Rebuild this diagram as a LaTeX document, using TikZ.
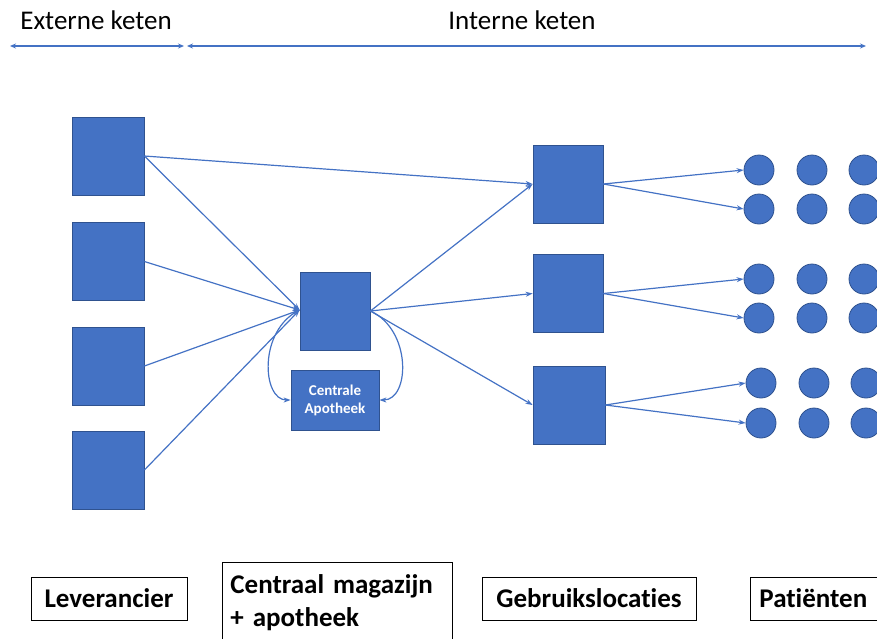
\documentclass[tikz,border=0pt]{standalone}
\usepackage{fontspec}
\setmainfont{Carlito}[Ligatures=NoCommon]
\usetikzlibrary{arrows.meta}
\definecolor{boxblue}{HTML}{4472C4}
\definecolor{boxedge}{HTML}{2F528F}
\begin{document}
\begin{tikzpicture}[x=1pt,y=-1pt,
  blk/.style={draw=boxedge,fill=boxblue,line width=0.8pt,minimum width=#1,inner sep=0pt},
  dot/.style={circle,draw=boxedge,fill=boxblue,line width=0.8pt,minimum size=30pt,inner sep=0pt},
  flow/.style={draw=boxblue,line width=1.2pt,-{Stealth[length=7pt,width=5pt]}},
  span/.style={draw=boxblue,line width=1.2pt,{Stealth[length=6pt,width=5pt]}-{Stealth[length=6pt,width=5pt]}},
  lbl/.style={draw=black,line width=0.8pt,font=\fontsize{27}{33}\selectfont\bfseries,align=left,inner sep=5pt}]
\useasboundingbox (0,0) rectangle (877,638);

% header spans
\node[font=\fontsize{27}{32}\selectfont] (ext) at (96,20) {Externe keten};
\node[font=\fontsize{27}{32}\selectfont] (int) at (522,20) {Interne keten};
\coordinate (e1) at (10,46); \coordinate (e2) at (184,46);
\coordinate (i1) at (187,46); \coordinate (i2) at (866,46);
\draw[span] (e1) -- (e2);
\draw[span] (i1) -- (i2);

% suppliers
\node[blk=72pt,minimum height=78pt] (s1) at (108,156) {};
\node[blk=72pt,minimum height=78pt] (s2) at (108,261.5) {};
\node[blk=72pt,minimum height=78pt] (s3) at (108,366) {};
\node[blk=72pt,minimum height=78pt] (s4) at (108,470) {};

% central warehouse and pharmacy
\node[blk=70pt,minimum height=78pt] (cm) at (335,311) {};
\node[blk=88pt,minimum height=60pt,text=white,font=\fontsize{15}{18}\selectfont\bfseries,align=center] (ca) at (335,400) {Centrale\\Apotheek};

% usage locations
\node[blk=70pt,minimum height=78pt] (g1) at (568,184) {};
\node[blk=70pt,minimum height=78pt] (g2) at (568,293.5) {};
\node[blk=72pt,minimum height=78pt] (g3) at (569,405) {};

% patients
\foreach \r/\y/\dx in {1/170/0,2/209/0,3/279/0,4/318/0,5/383/2,6/423/2}{
  \node[dot] (p\r a) at (759+\dx,\y) {};
  \node[dot] (p\r b) at (812+\dx,\y) {};
  \node[dot] (p\r c) at (864+\dx,\y) {};
}

% flows
\coordinate (cmin) at ([yshift=1pt]cm.west);
\draw[flow] (s1.east) -- (g1.west);
\draw[flow] (s1.east) -- (cmin);
\draw[flow] (s2.east) -- (cmin);
\draw[flow] (s3.east) -- (cmin);
\draw[flow] (s4.east) -- (cmin);
\draw[flow] (cm.east) -- (g1.west);
\draw[flow] (cm.east) -- (g2.west);
\draw[flow] (cm.east) -- (g3.west);
\draw[flow] (cmin) .. controls (258,330) and (262,400) .. (ca.west);
\draw[flow] (cm.east) .. controls (412,330) and (410,400) .. (ca.east);
\draw[flow] (g1.east) -- (p1a.west);
\draw[flow] (g1.east) -- (p2a.west);
\draw[flow] (g2.east) -- (p3a.west);
\draw[flow] (g2.east) -- (p4a.west);
\draw[flow] (g3.east) -- (p5a.west);
\draw[flow] (g3.east) -- (p6a.west);

% bottom labels
\node[lbl,minimum width=156pt,minimum height=43pt,align=center] (lv) at (109,598.5) {Leverancier};
\node[lbl,anchor=north west,text width=214pt,minimum height=80pt,inner sep=8pt,inner ysep=3pt] (cmlab) at (222,562) {Centraal magazijn\\+ apotheek};
\node[lbl,minimum width=214pt,minimum height=43pt,align=center] (gb) at (589,598.5) {Gebruikslocaties};
\node[lbl,anchor=west,minimum height=43pt,inner xsep=9pt] (pt) at (750,598.5) {Patiënten\hspace*{20pt}};
\end{tikzpicture}
\end{document}
